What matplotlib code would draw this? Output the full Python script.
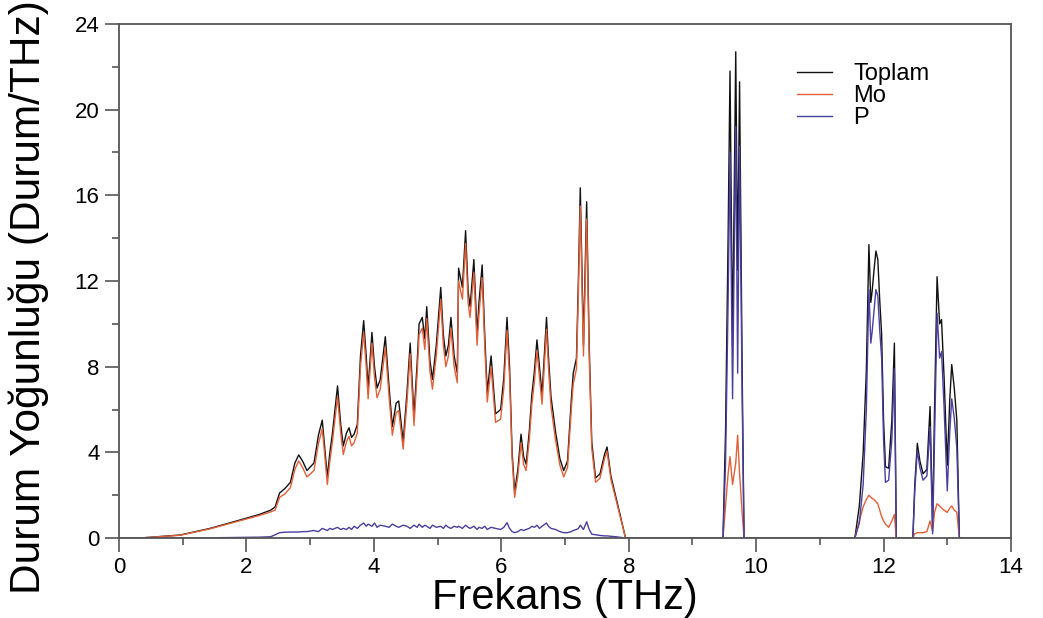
import matplotlib.pyplot as plt
from matplotlib.ticker import MultipleLocator

plt.rcParams['font.family'] = ['Liberation Sans', 'DejaVu Sans']

# Frequency grid (THz) and partial/total DOS values
freq = [0.00, 0.33, 0.96, 1.43, 1.98, 2.20, 2.38, 2.45, 2.52, 2.60,
        2.69, 2.76, 2.82, 2.88, 2.95, 3.06, 3.13, 3.19, 3.23, 3.27,
        3.31, 3.35, 3.43, 3.48, 3.52, 3.57, 3.61, 3.65, 3.69, 3.74,
        3.79, 3.84, 3.88, 3.91, 3.97, 4.01, 4.05, 4.10, 4.18, 4.24,
        4.29, 4.35, 4.39, 4.46, 4.52, 4.57, 4.63, 4.68, 4.71, 4.76,
        4.80, 4.83, 4.88, 4.92, 4.98, 5.05, 5.09, 5.13, 5.17, 5.21,
        5.26, 5.31, 5.33, 5.39, 5.44, 5.48, 5.51, 5.57, 5.62, 5.65,
        5.70, 5.74, 5.78, 5.84, 5.91, 5.99, 6.04, 6.09, 6.13, 6.17,
        6.21, 6.26, 6.31, 6.35, 6.39, 6.44, 6.48, 6.52, 6.56, 6.60,
        6.64, 6.71, 6.74, 6.78, 6.85, 6.92, 6.98, 7.04, 7.10, 7.13,
        7.18, 7.21, 7.24, 7.29, 7.34, 7.38, 7.42, 7.48, 7.55, 7.62,
        7.66, 7.72, 7.80, 7.88, 7.95,
        9.48, 9.52, 9.56, 9.59, 9.63, 9.68, 9.71, 9.74, 9.78, 9.81,
        11.55, 11.62, 11.68, 11.73, 11.77, 11.80, 11.82, 11.85, 11.88, 11.91,
        11.94, 11.97, 12.00, 12.03, 12.08, 12.13, 12.17, 12.20,
        12.46, 12.49, 12.53, 12.57, 12.62, 12.68, 12.73, 12.77, 12.80, 12.84,
        12.88, 12.91, 12.95, 13.00, 13.04, 13.07, 13.11, 13.15, 13.19, 14.00]

toplam = [0, 0, 0.14, 0.45, 0.91, 1.10, 1.30, 1.45, 2.10, 2.30,
          2.60, 3.50, 3.88, 3.60, 3.15, 3.50, 4.80, 5.50, 4.20, 2.85,
          4.00, 4.90, 7.10, 5.30, 4.30, 4.90, 5.15, 4.70, 4.85, 5.30,
          8.50, 10.15, 8.50, 7.00, 9.60, 8.00, 7.00, 7.40, 9.40, 7.00,
          5.20, 6.30, 6.40, 4.50, 6.80, 9.10, 5.70, 8.20, 10.00, 10.30,
          9.30, 10.80, 8.30, 7.40, 9.00, 11.70, 9.50, 8.50, 9.00, 10.30,
          8.50, 7.70, 12.60, 11.70, 14.35, 11.50, 10.80, 13.00, 9.50, 11.00,
          12.75, 9.50, 6.80, 8.50, 5.80, 6.00, 7.50, 10.30, 8.00, 4.00,
          2.15, 3.20, 4.85, 3.80, 3.45, 5.00, 6.70, 7.80, 9.25, 8.00,
          6.70, 10.30, 8.50, 6.60, 5.00, 3.70, 3.15, 3.60, 6.50, 7.70,
          8.40, 12.00, 16.35, 9.00, 15.70, 9.00, 4.50, 2.80, 3.00, 3.90,
          4.25, 2.90, 1.90, 0.90, 0,
          0, 5.0, 14.0, 21.8, 9.0, 22.7, 12.5, 21.3, 8.0, 0,
          0, 1.5, 3.96, 7.85, 13.7, 11.0, 11.5, 12.5, 13.4, 13.0,
          11.1, 9.5, 5.5, 3.33, 3.26, 5.5, 9.1, 0,
          0, 2.5, 4.42, 3.6, 3.0, 3.2, 6.14, 0.5, 6.0, 12.2,
          10.0, 10.2, 7.5, 3.4, 6.5, 8.1, 7.0, 5.5, 0, 0]

mo = [0, 0, 0.13, 0.43, 0.87, 1.05, 1.22, 1.30, 1.90, 2.05,
      2.35, 3.20, 3.60, 3.30, 2.85, 3.15, 4.40, 5.10, 3.85, 2.50,
      3.60, 4.50, 6.60, 4.90, 3.90, 4.50, 4.75, 4.30, 4.45, 4.90,
      8.00, 9.60, 8.00, 6.50, 9.10, 7.50, 6.55, 6.95, 8.90, 6.55,
      4.80, 5.85, 5.95, 4.15, 6.35, 8.60, 5.25, 7.70, 9.50, 9.80,
      8.80, 10.25, 7.80, 6.95, 8.50, 11.15, 9.00, 8.00, 8.50, 9.80,
      8.00, 7.25, 12.00, 11.15, 13.75, 10.95, 10.30, 12.40, 9.00, 10.45,
      12.15, 9.00, 6.35, 8.00, 5.40, 5.55, 7.00, 9.70, 7.50, 3.70,
      1.90, 2.90, 4.45, 3.45, 3.15, 4.60, 6.25, 7.30, 8.75, 7.50,
      6.25, 9.75, 8.00, 6.15, 4.60, 3.40, 2.85, 3.30, 6.05, 7.20,
      7.90, 11.40, 15.50, 8.50, 14.90, 8.50, 4.20, 2.60, 2.80, 3.70,
      4.05, 2.75, 1.80, 0.85, 0,
      0, 1.5, 3.0, 3.8, 2.5, 3.5, 4.8, 3.0, 1.2, 0,
      0, 0.8, 1.46, 1.8, 2.0, 1.9, 1.85, 1.8, 1.7, 1.6,
      1.3, 1.0, 0.8, 0.65, 0.5, 0.8, 1.1, 0,
      0, 0.2, 0.25, 0.25, 0.25, 0.3, 0.8, 0.3, 1.2, 1.6,
      1.5, 1.4, 1.3, 1.2, 1.4, 1.5, 1.3, 1.2, 0, 0]

p = [0, 0, 0, 0.01, 0.03, 0.04, 0.06, 0.15, 0.25, 0.27,
     0.28, 0.28, 0.28, 0.30, 0.30, 0.35, 0.30, 0.45, 0.40, 0.35,
     0.45, 0.40, 0.50, 0.40, 0.45, 0.40, 0.50, 0.40, 0.55, 0.45,
     0.60, 0.70, 0.55, 0.65, 0.55, 0.70, 0.50, 0.60, 0.55, 0.50,
     0.65, 0.55, 0.50, 0.60, 0.55, 0.45, 0.60, 0.50, 0.65, 0.50,
     0.60, 0.55, 0.45, 0.60, 0.50, 0.55, 0.45, 0.60, 0.50, 0.45,
     0.55, 0.50, 0.55, 0.45, 0.60, 0.50, 0.45, 0.55, 0.40, 0.50,
     0.45, 0.55, 0.40, 0.50, 0.45, 0.40, 0.50, 0.72, 0.45, 0.30,
     0.25, 0.30, 0.40, 0.35, 0.40, 0.45, 0.55, 0.50, 0.60, 0.45,
     0.55, 0.70, 0.55, 0.45, 0.40, 0.30, 0.25, 0.25, 0.30, 0.35,
     0.40, 0.45, 0.60, 0.40, 0.76, 0.40, 0.18, 0.15, 0.12, 0.10,
     0.10, 0.08, 0.06, 0.03, 0,
     0, 3.5, 11.0, 18.0, 6.5, 19.2, 7.7, 18.3, 6.8, 0,
     0, 0.7, 2.5, 6.0, 11.6, 9.1, 9.6, 10.6, 11.6, 11.3,
     9.7, 8.4, 4.6, 2.6, 2.7, 4.6, 7.9, 0,
     0, 2.2, 4.1, 3.3, 2.7, 2.9, 5.2, 0.2, 4.7, 10.5,
     8.4, 8.7, 6.1, 2.2, 5.0, 6.5, 5.6, 4.2, 0, 0]

fig = plt.figure(figsize=(10.43, 6.18), dpi=100)
ax = fig.add_axes([0.1141, 0.1294, 0.8552, 0.8318])

ax.plot(freq, toplam, color='#111111', lw=1.0, label='Toplam')
ax.plot(freq, mo, color='#e0603a', lw=1.0, label='Mo')
ax.plot(freq, p, color='#4a3f9f', lw=1.0, label='P')

ax.set_xlim(0, 14)
ax.set_ylim(0, 24)
ax.xaxis.set_major_locator(MultipleLocator(2))
ax.xaxis.set_minor_locator(MultipleLocator(1))
ax.yaxis.set_major_locator(MultipleLocator(4))
ax.yaxis.set_minor_locator(MultipleLocator(2))
ax.tick_params(which='major', direction='out', length=10, width=1.2,
               color='#555555', labelsize=16, pad=4)
ax.tick_params(which='minor', direction='out', length=5, width=1.2,
               color='#555555')
for s in ax.spines.values():
    s.set_color('#555555')
    s.set_linewidth(1.3)

ax.set_xlabel('Frekans (THz)', fontsize=30, labelpad=0)
ax.set_ylabel('Durum Yoğunluğu (Durum/THz)', fontsize=30.5)
ax.yaxis.set_label_coords(-0.078, 0.469)

ax.legend(loc='upper left', bbox_to_anchor=(0.760, 0.924), frameon=False,
          fontsize=17, handlelength=1.5, handletextpad=0.9,
          labelspacing=0.0, borderpad=0, borderaxespad=0)

fig.savefig('out.png', dpi=100)
